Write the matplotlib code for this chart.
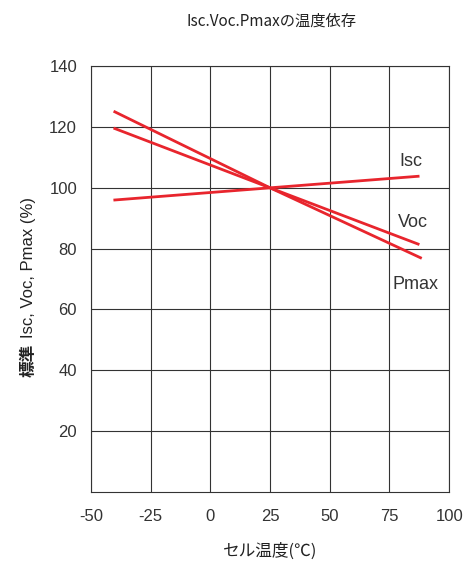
import matplotlib.pyplot as plt

plt.rcParams['font.family'] = ['Liberation Sans', 'Noto Sans CJK JP', 'DejaVu Sans']
plt.rcParams['axes.unicode_minus'] = False

# cell temperature (deg C) and normalized values (%)
temp_isc = [-40, 25, 87]
isc = [96, 100, 103.8]
temp_voc = [-40, 25, 87]
voc = [119.5, 100, 81.5]
temp_pmax = [-40, 25, 88]
pmax = [125, 100, 77]

labels = ['Isc', 'Voc', 'Pmax']
label_x = [84, 85, 86]
label_y = [108.5, 88.7, 68.3]

xticks = [-50, -25, 0, 25, 50, 75, 100]
yticks = [20, 40, 60, 80, 100, 120, 140]

red = '#e8252d'
cjk = ['Noto Sans CJK JP', 'DejaVu Sans']

fig = plt.figure(figsize=(4.64, 5.66), dpi=100)
ax = fig.add_axes([0.196, 0.131, 0.772, 0.752])

ax.plot(temp_isc, isc, color=red, lw=2)
ax.plot(temp_voc, voc, color=red, lw=2)
ax.plot(temp_pmax, pmax, color=red, lw=2)

for t, x, y in zip(labels, label_x, label_y):
    ax.text(x, y, t, fontsize=13, color='#333333', ha='center', va='center')

ax.set_xlim(-50, 100)
ax.set_ylim(0, 140)
ax.set_xticks(xticks)
ax.set_yticks(yticks)
ax.grid(True, color='#333333', lw=0.8)
for s in ax.spines.values():
    s.set_color('#333333')
    s.set_linewidth(0.8)
ax.tick_params(axis='both', labelsize=12, labelcolor='#333333', length=0)
ax.tick_params(axis='x', pad=12)
ax.tick_params(axis='y', pad=10)

# y label: bold "標準" plus the rest in normal weight
fig.text(0.062, 0.363, '標準', fontsize=12, weight='bold', rotation=90,
         ha='center', va='center', family=cjk, color='#222222')
fig.text(0.062, 0.527, 'Isc, Voc, Pmax (%)', fontsize=12, rotation=90,
         ha='center', va='center', color='#222222')

ax.set_xlabel('セル温度(℃)', fontsize=12, labelpad=14, family=cjk, color='#222222')
fig.text(0.585, 0.963, 'Isc.Voc.Pmaxの温度依存', fontsize=11, ha='center', va='center',
         family=cjk, color='#222222')

plt.savefig('out.png', dpi=100)
plt.close()
